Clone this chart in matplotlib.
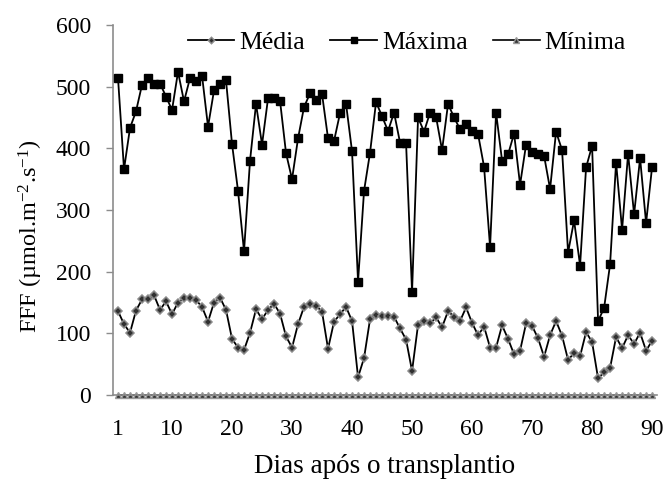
import matplotlib
matplotlib.use("Agg")
import matplotlib.pyplot as plt
import numpy as np

plt.rcParams["font.family"] = ["Liberation Serif", "DejaVu Serif"]
plt.rcParams["mathtext.fontset"] = "custom"
plt.rcParams["mathtext.rm"] = "Liberation Serif"
plt.rcParams["mathtext.it"] = "Liberation Serif:italic"

dias = np.arange(1, 91)

media = [136, 115, 101, 137, 155, 155, 162, 138, 152, 131,
         150, 157, 158, 154, 143, 119, 150, 158, 138, 91,
         77, 73, 101, 139, 123, 138, 148, 132, 95, 77,
         115, 143, 147, 145, 135, 75, 119, 131, 143, 120,
         29, 60, 123, 130, 128, 128, 127, 108, 90, 39,
         114, 120, 116, 126, 110, 136, 127, 120, 142, 117,
         97, 111, 77, 77, 113, 91, 66, 72, 116, 112,
         92, 62, 97, 120, 96, 57, 68, 63, 102, 86,
         27, 37, 44, 94, 76, 97, 83, 101, 72, 88]

maxima = [514, 366, 433, 460, 503, 514, 504, 505, 484, 462,
          524, 476, 514, 509, 518, 435, 494, 504, 510, 407,
          331, 233, 380, 472, 406, 481, 482, 477, 392, 350,
          416, 467, 489, 478, 488, 416, 412, 457, 472, 395,
          184, 331, 393, 475, 452, 428, 458, 409, 409, 167,
          450, 427, 458, 451, 397, 472, 450, 431, 440, 428,
          423, 370, 240, 458, 380, 390, 424, 341, 406, 394,
          390, 388, 334, 427, 397, 231, 283, 210, 369, 404,
          120, 141, 212, 377, 268, 391, 293, 384, 279, 370]

minima = [0] * 90

x_labels = [1, 10, 20, 30, 40, 50, 60, 70, 80, 90]

fs = 17

fig = plt.figure(figsize=(6.7, 4.8), dpi=100)
ax = fig.add_axes([0.1687, 0.177, 0.812, 0.771])

ax.plot(dias, minima, color="black", lw=1.2, marker="^", ms=5,
        mfc="#333333", mec="#999999", mew=1.0, label="Mínima", zorder=2,
        clip_on=False)
ax.plot(dias, media, color="black", lw=1.3, marker="D", ms=4,
        mfc="#303030", mec="#8a8a8a", mew=1.1, label="Média", zorder=3)
ax.plot(dias, maxima, color="black", lw=1.3, marker="s", ms=6,
        mfc="black", mec="black", label="Máxima", zorder=4)

ax.set_xlim(0.17, 90.83)
ax.set_ylim(0, 600)
ax.set_yticks(range(0, 601, 100))
ax.set_xticks(x_labels)
ax.tick_params(axis="x", length=0, labelsize=fs, pad=17)
ax.tick_params(axis="y", length=5, width=1, color="#8c8c8c", labelsize=fs, pad=11)

for side in ["top", "right"]:
    ax.spines[side].set_visible(False)
for side in ["left", "bottom"]:
    ax.spines[side].set_color("#8c8c8c")
    ax.spines[side].set_linewidth(1.2)

ax.set_ylabel("FFF (µmol.m$^{-2}$.s$^{-1}$)", fontsize=17.5)
ax.yaxis.set_label_coords(-0.125, 0.43)
ax.set_xlabel("Dias após o transplantio", fontsize=19.5, labelpad=10)

handles, labels = ax.get_legend_handles_labels()
order = [1, 2, 0]
ax.legend([handles[i] for i in order], [labels[i] for i in order],
          loc="upper center", bbox_to_anchor=(0.54, 1.045), ncol=3,
          frameon=False, fontsize=18.5, handlelength=1.8, handletextpad=0.2,
          columnspacing=1.0, markerscale=0.8)

fig.savefig("out.png", dpi=100)
